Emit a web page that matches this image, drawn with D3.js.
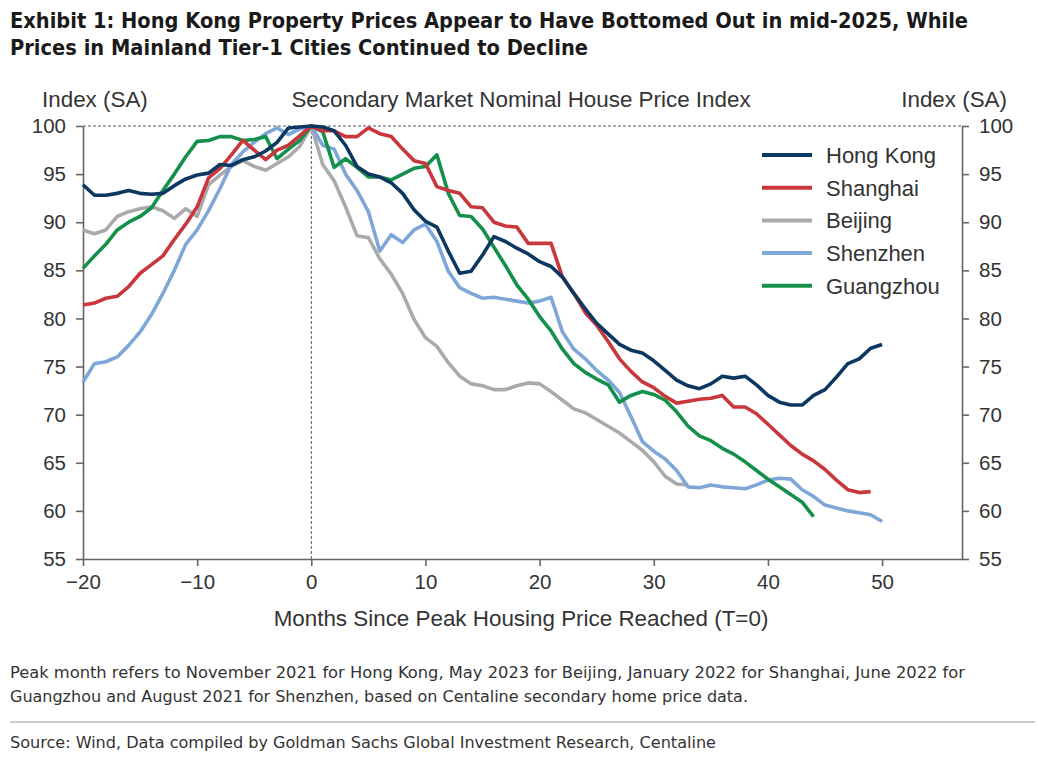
<!DOCTYPE html>
<html lang="en">
<head>
  <meta charset="UTF-8">
  <title>Exhibit 1</title>
  <style>
    body { margin: 0; background: #fff; }
    .narrow { font-family: "Liberation Sans Narrow", "DejaVu Sans Condensed", "Arial Narrow", sans-serif; }
    .arial { font-family: "Liberation Sans", Arial, sans-serif; }
  </style>
</head>
<body>
  <script src="https://d3js.org/d3.v7.min.js"></script>
  <script>
    const width = 1038;
    const height = 758;

    // month offsets start at -20 for every series
    const startMonth = -20;
    const cities = ['Hong Kong', 'Shanghai', 'Beijing', 'Shenzhen', 'Guangzhou'];
    const colors = ['#0c3761', '#c9373c', '#aaaaaa', '#7ea7d8', '#15904b'];

    const hongKong = [93.9, 92.8, 92.8, 93.0, 93.3, 93.0, 92.9, 93.0, 93.8, 94.5, 94.9, 95.1, 96.0, 95.9, 96.5, 96.8, 97.4, 98.3, 99.8, 99.9,
      100, 99.9, 99.5, 98.0, 95.8, 95.0, 94.7, 94.1, 93.0, 91.3, 90.1, 89.5, 87.0, 84.7, 84.9, 86.6, 88.5, 88.0, 87.3, 86.7,
      85.9, 85.4, 84.3, 82.6, 81.0, 79.5, 78.4, 77.3, 76.7, 76.4, 75.6, 74.6, 73.6, 73.0, 72.7, 73.2, 74.0, 73.8, 74.0, 73.1,
      72.0, 71.3, 71.0, 71.0, 72.0, 72.6, 73.9, 75.3, 75.8, 76.9, 77.3];
    const shanghai = [81.4, 81.6, 82.1, 82.3, 83.3, 84.7, 85.6, 86.5, 88.2, 89.8, 91.6, 94.6, 95.6, 97.0, 98.5, 97.5, 96.5, 97.5, 98.0, 99.0,
      100, 99.5, 99.5, 98.9, 98.9, 99.8, 99.2, 98.9, 97.6, 96.4, 96.1, 93.7, 93.3, 93.0, 91.6, 91.5, 90.0, 89.6, 89.5, 87.8,
      87.8, 87.8, 84.3, 82.6, 80.6, 79.3, 77.6, 75.8, 74.5, 73.4, 72.8, 71.9, 71.2, 71.4, 71.6, 71.7, 72.0, 70.8, 70.8, 70.1,
      69.0, 67.9, 66.8, 65.9, 65.2, 64.3, 63.2, 62.2, 61.9, 62.0];
    const beijing = [89.2, 88.8, 89.2, 90.6, 91.1, 91.4, 91.6, 91.2, 90.4, 91.4, 90.6, 93.9, 94.9, 95.8, 96.4, 95.8, 95.4, 96.1, 96.8, 97.9,
      100, 96.0, 94.3, 91.6, 88.6, 88.4, 86.2, 84.6, 82.6, 79.9, 78.0, 77.1, 75.4, 74.0, 73.2, 73.0, 72.6, 72.6, 73.0, 73.3,
      73.2, 72.4, 71.5, 70.6, 70.2, 69.5, 68.8, 68.1, 67.2, 66.3, 65.1, 63.6, 62.8, 62.7];
    const shenzhen = [73.4, 75.3, 75.5, 76.0, 77.2, 78.6, 80.4, 82.6, 85.0, 87.7, 89.2, 91.2, 93.5, 96.0, 97.3, 98.3, 99.2, 99.8, 99.1, 99.7,
      100, 98.0, 97.6, 95.0, 93.3, 91.1, 87.0, 88.7, 87.9, 89.2, 89.8, 88.0, 84.9, 83.2, 82.6, 82.1, 82.2, 82.0, 81.8, 81.6,
      81.8, 82.2, 78.6, 76.8, 75.8, 74.6, 73.6, 72.3, 69.8, 67.2, 66.2, 65.4, 64.2, 62.5, 62.4, 62.7, 62.5, 62.4, 62.3, 62.7,
      63.2, 63.4, 63.3, 62.2, 61.5, 60.6, 60.3, 60.0, 59.8, 59.6, 58.9];
    const guangzhou = [85.2, 86.5, 87.7, 89.2, 90.0, 90.6, 91.5, 93.3, 95.0, 96.8, 98.4, 98.5, 98.9, 98.9, 98.5, 98.6, 98.9, 96.6, 97.6, 98.5,
      100, 99.4, 95.7, 96.6, 95.7, 94.7, 94.7, 94.4, 95.0, 95.6, 95.8, 97.0, 93.0, 90.7, 90.6, 89.3, 87.4, 85.5, 83.5, 82.0,
      80.2, 78.7, 76.8, 75.3, 74.4, 73.7, 73.1, 71.3, 72.0, 72.4, 72.1, 71.5, 70.3, 68.8, 67.8, 67.3, 66.5, 65.9, 65.1, 64.2,
      63.3, 62.5, 61.7, 60.9, 59.4];

    const seriesValues = [hongKong, shanghai, beijing, shenzhen, guangzhou];
    const xTicks = [-20, -10, 0, 10, 20, 30, 40, 50];
    const yTicks = [55, 60, 65, 70, 75, 80, 85, 90, 95, 100];

    const x = d3.scaleLinear().domain([-20, 57]).range([83, 962]);
    const y = d3.scaleLinear().domain([55, 100]).range([559, 126]);

    const svg = d3.select('body')
                  .append('svg')
                  .attr('width', width)
                  .attr('height', height);

    // titles
    const title = svg.append('g').attr('class', 'narrow')
      .attr('font-weight', 'bold').attr('font-size', 22).attr('fill', '#1a1a1a');
    title.append('text').attr('x', 10).attr('y', 28)
      .attr('textLength', 958).attr('lengthAdjust', 'spacingAndGlyphs')
      .text('Exhibit 1: Hong Kong Property Prices Appear to Have Bottomed Out in mid-2025, While');
    title.append('text').attr('x', 10).attr('y', 55)
      .attr('textLength', 578).attr('lengthAdjust', 'spacingAndGlyphs')
      .text('Prices in Mainland Tier-1 Cities Continued to Decline');

    const labels = svg.append('g').attr('class', 'arial').attr('font-size', 22.4).attr('fill', '#333');
    labels.append('text').attr('x', 42).attr('y', 107).text('Index (SA)');
    labels.append('text').attr('x', 521).attr('y', 107).attr('text-anchor', 'middle')
      .text('Secondary Market Nominal House Price Index');
    labels.append('text').attr('x', 1007).attr('y', 107).attr('text-anchor', 'end').text('Index (SA)');
    labels.append('text').attr('x', 521).attr('y', 626).attr('text-anchor', 'middle')
      .text('Months Since Peak Housing Price Reached (T=0)');

    // reference dotted lines
    svg.append('line')
      .attr('x1', x(-20)).attr('x2', x(57)).attr('y1', y(100)).attr('y2', y(100))
      .attr('stroke', '#555').attr('stroke-dasharray', '3,2');
    svg.append('line')
      .attr('x1', x(0)).attr('x2', x(0)).attr('y1', y(100)).attr('y2', y(55))
      .attr('stroke', '#555').attr('stroke-dasharray', '3,2');

    // axes
    const styleAxis = (g) => {
      g.selectAll('.domain').attr('stroke', '#666').attr('stroke-width', 1.6);
      g.selectAll('.tick line').attr('stroke', '#666').attr('stroke-width', 1.6);
      g.selectAll('.tick text').attr('fill', '#333').attr('font-size', 20.5)
        .attr('font-family', '"Liberation Sans", Arial, sans-serif');
    };
    svg.append('g')
      .attr('transform', 'translate(' + x(-20) + ',0)')
      .call(d3.axisLeft(y).tickValues(yTicks).tickSize(7).tickSizeOuter(0).tickPadding(10))
      .call(styleAxis);
    svg.append('g')
      .attr('transform', 'translate(' + x(57) + ',0)')
      .call(d3.axisRight(y).tickValues(yTicks).tickSize(7).tickSizeOuter(0).tickPadding(10))
      .call(styleAxis);
    svg.append('g')
      .attr('transform', 'translate(0,' + y(55) + ')')
      .call(d3.axisBottom(x).tickValues(xTicks).tickSize(7).tickSizeOuter(0).tickPadding(8)
        .tickFormat(d => d < 0 ? '\u2212' + Math.abs(d) : d))
      .call(styleAxis);

    // lines
    const line = d3.line()
      .x((d, i) => x(startMonth + i))
      .y(d => y(d));
    const drawOrder = [2, 3, 4, 1, 0];
    drawOrder.forEach(k => {
      svg.append('path')
        .datum(seriesValues[k])
        .attr('d', line)
        .attr('fill', 'none')
        .attr('stroke', colors[k])
        .attr('stroke-width', 3.6)
        .attr('stroke-linejoin', 'round');
    });

    // legend
    const legend = svg.append('g').attr('class', 'arial');
    cities.forEach((c, i) => {
      const ly = 155 + i * 32.7;
      legend.append('line')
        .attr('x1', 762).attr('x2', 812).attr('y1', ly).attr('y2', ly)
        .attr('stroke', colors[i]).attr('stroke-width', 4);
      legend.append('text')
        .attr('x', 826).attr('y', ly + 8)
        .attr('font-size', 22).attr('fill', '#333')
        .text(c);
    });

    // notes
    const notes = svg.append('g').attr('class', 'narrow').attr('font-size', 16).attr('fill', '#333');
    notes.append('text').attr('x', 10).attr('y', 678)
      .attr('textLength', 955).attr('lengthAdjust', 'spacingAndGlyphs')
      .text('Peak month refers to November 2021 for Hong Kong, May 2023 for Beijing, January 2022 for Shanghai, June 2022 for');
    notes.append('text').attr('x', 10).attr('y', 702)
      .attr('textLength', 738).attr('lengthAdjust', 'spacingAndGlyphs')
      .text('Guangzhou and August 2021 for Shenzhen, based on Centaline secondary home price data.');
    svg.append('line')
      .attr('x1', 10).attr('x2', 1035).attr('y1', 722).attr('y2', 722)
      .attr('stroke', '#999').attr('stroke-width', 1);
    notes.append('text').attr('x', 10).attr('y', 748)
      .attr('textLength', 706).attr('lengthAdjust', 'spacingAndGlyphs')
      .text('Source: Wind, Data compiled by Goldman Sachs Global Investment Research, Centaline');
  </script>
</body>
</html>
